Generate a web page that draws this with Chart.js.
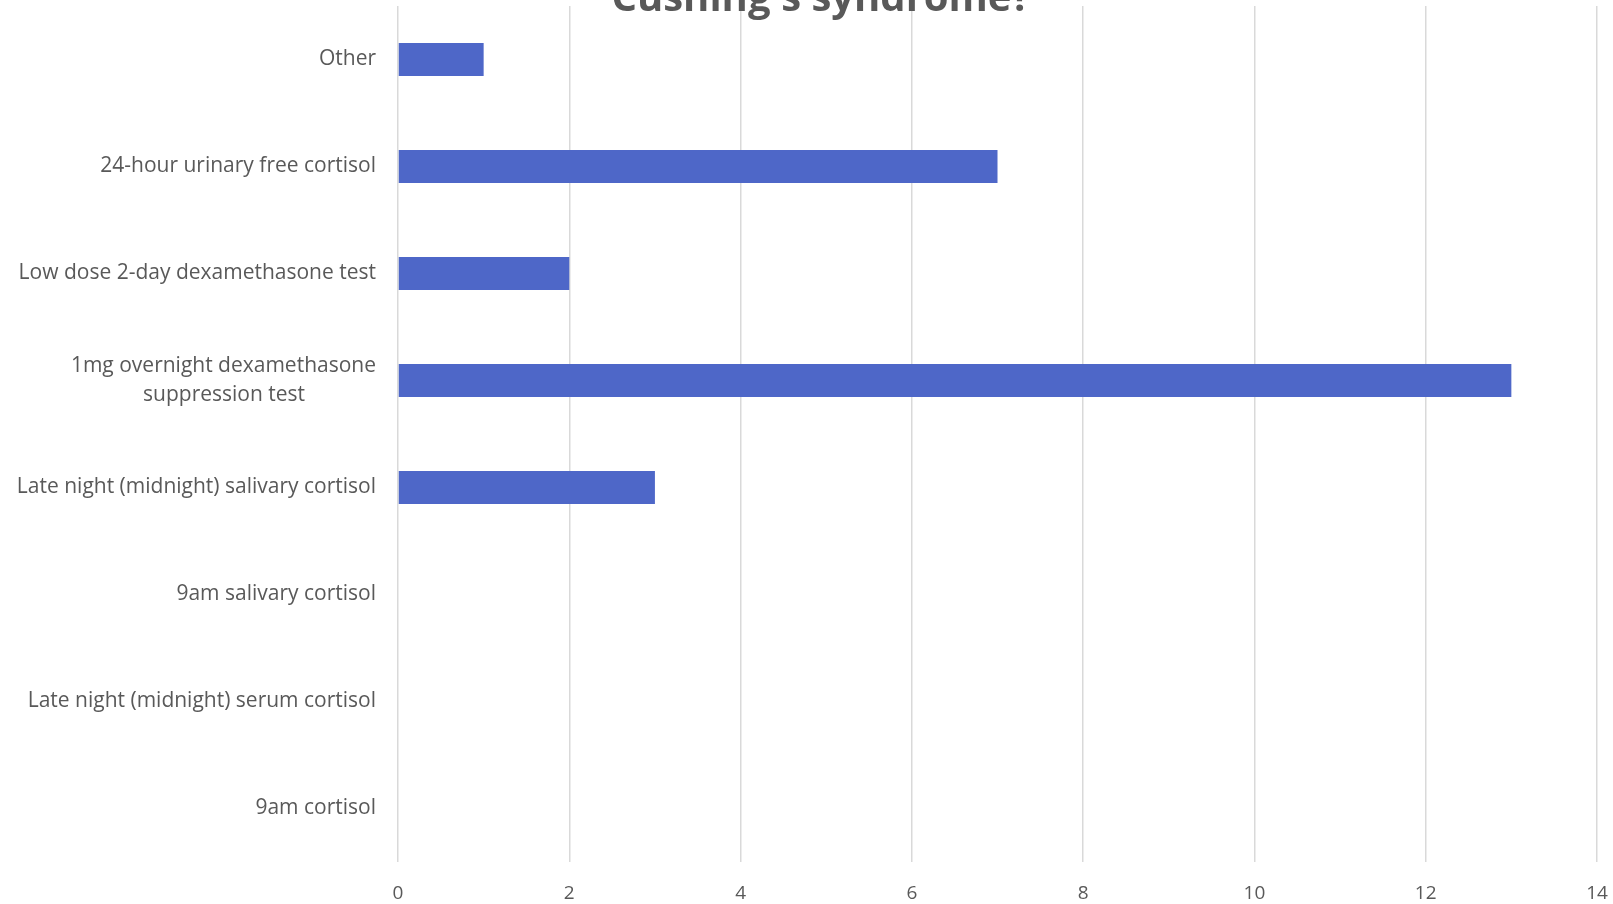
<!DOCTYPE html>
<html>
<head>
<meta charset="utf-8">
<script src="https://cdn.jsdelivr.net/npm/chart.js@4/dist/chart.umd.min.js"></script>
<style>
  html, body { margin: 0; padding: 0; background: #ffffff; }
  #wrap { width: 1613px; height: 904px; position: relative; }
</style>
</head>
<body>
<div id="wrap"><canvas id="chart" width="1613" height="904"></canvas></div>
<script>
// Screening tests, listed top to bottom
const categories = [
  'Other',
  '24-hour urinary free cortisol',
  'Low dose 2-day dexamethasone test',
  ['1mg overnight dexamethasone', 'suppression test'],
  'Late night (midnight) salivary cortisol',
  '9am salivary cortisol',
  'Late night (midnight) serum cortisol',
  '9am cortisol'
];
// Number of responses per test
const responses = [1, 7, 2, 13, 3, 0, 0, 0];
// Value axis ticks
const xTicks = [0, 2, 4, 6, 8, 10, 12, 14];
const titleText = "Cushing's syndrome?";

const FONT = "'Open Sans', 'DejaVu Sans', sans-serif";
const LABEL_SIZE = 21;

// Multi-line category labels are centred as a block: pad shorter lines
// with no-break spaces on the right so they sit under the longest line.
const measureCtx = document.createElement('canvas').getContext('2d');
measureCtx.font = LABEL_SIZE + "px " + FONT;
function centreLines(label) {
  if (!Array.isArray(label)) return label;
  const widths = label.map(l => measureCtx.measureText(l).width);
  const maxW = Math.max(...widths);
  const sp = measureCtx.measureText('\u00a0').width;
  return label.map((l, i) => l + '\u00a0'.repeat(Math.round((maxW - widths[i]) / 2 / sp)));
}

// Title sits partly above the canvas edge
const titlePlugin = {
  id: 'clippedTitle',
  afterDraw(chart) {
    const ctx = chart.ctx;
    ctx.save();
    ctx.font = "bold 40px " + FONT;
    ctx.fillStyle = '#595959';
    ctx.textAlign = 'center';
    ctx.textBaseline = 'alphabetic';
    ctx.fillText(titleText, 821, 11);
    ctx.restore();
  }
};

new Chart(document.getElementById('chart'), {
  type: 'bar',
  data: {
    labels: categories,
    datasets: [{
      data: responses,
      backgroundColor: '#4e67c8',
      borderWidth: 0,
      barPercentage: 0.31,
      categoryPercentage: 1.0
    }]
  },
  options: {
    indexAxis: 'y',
    responsive: false,
    animation: false,
    layout: { padding: { left: 0, right: 16, top: 6, bottom: 0 } },
    plugins: { legend: { display: false }, title: { display: false }, tooltip: { enabled: false } },
    scales: {
      x: {
        min: 0,
        max: 14,
        afterBuildTicks(scale) { scale.ticks = xTicks.map(v => ({ value: v })); },
        afterFit(scale) { scale.height = 42; scale.paddingLeft = 0; scale.paddingRight = 0; },
        grid: { color: '#d9d9d9', lineWidth: 1.5, drawTicks: false },
        border: { display: false },
        ticks: {
          color: '#595959',
          font: { family: FONT, size: 19 },
          padding: 20,
          maxRotation: 0
        }
      },
      y: {
        afterFit(scale) { scale.width = 398; scale.paddingTop = 0; scale.paddingBottom = 0; },
        grid: { display: false, drawTicks: false },
        border: { display: false },
        ticks: {
          color: '#595959',
          font: { family: FONT, size: LABEL_SIZE, lineHeight: 1.4 },
          padding: 22,
          autoSkip: false,
          callback(value) { return centreLines(categories[value]); }
        }
      }
    }
  },
  plugins: [titlePlugin]
});
</script>
</body>
</html>
